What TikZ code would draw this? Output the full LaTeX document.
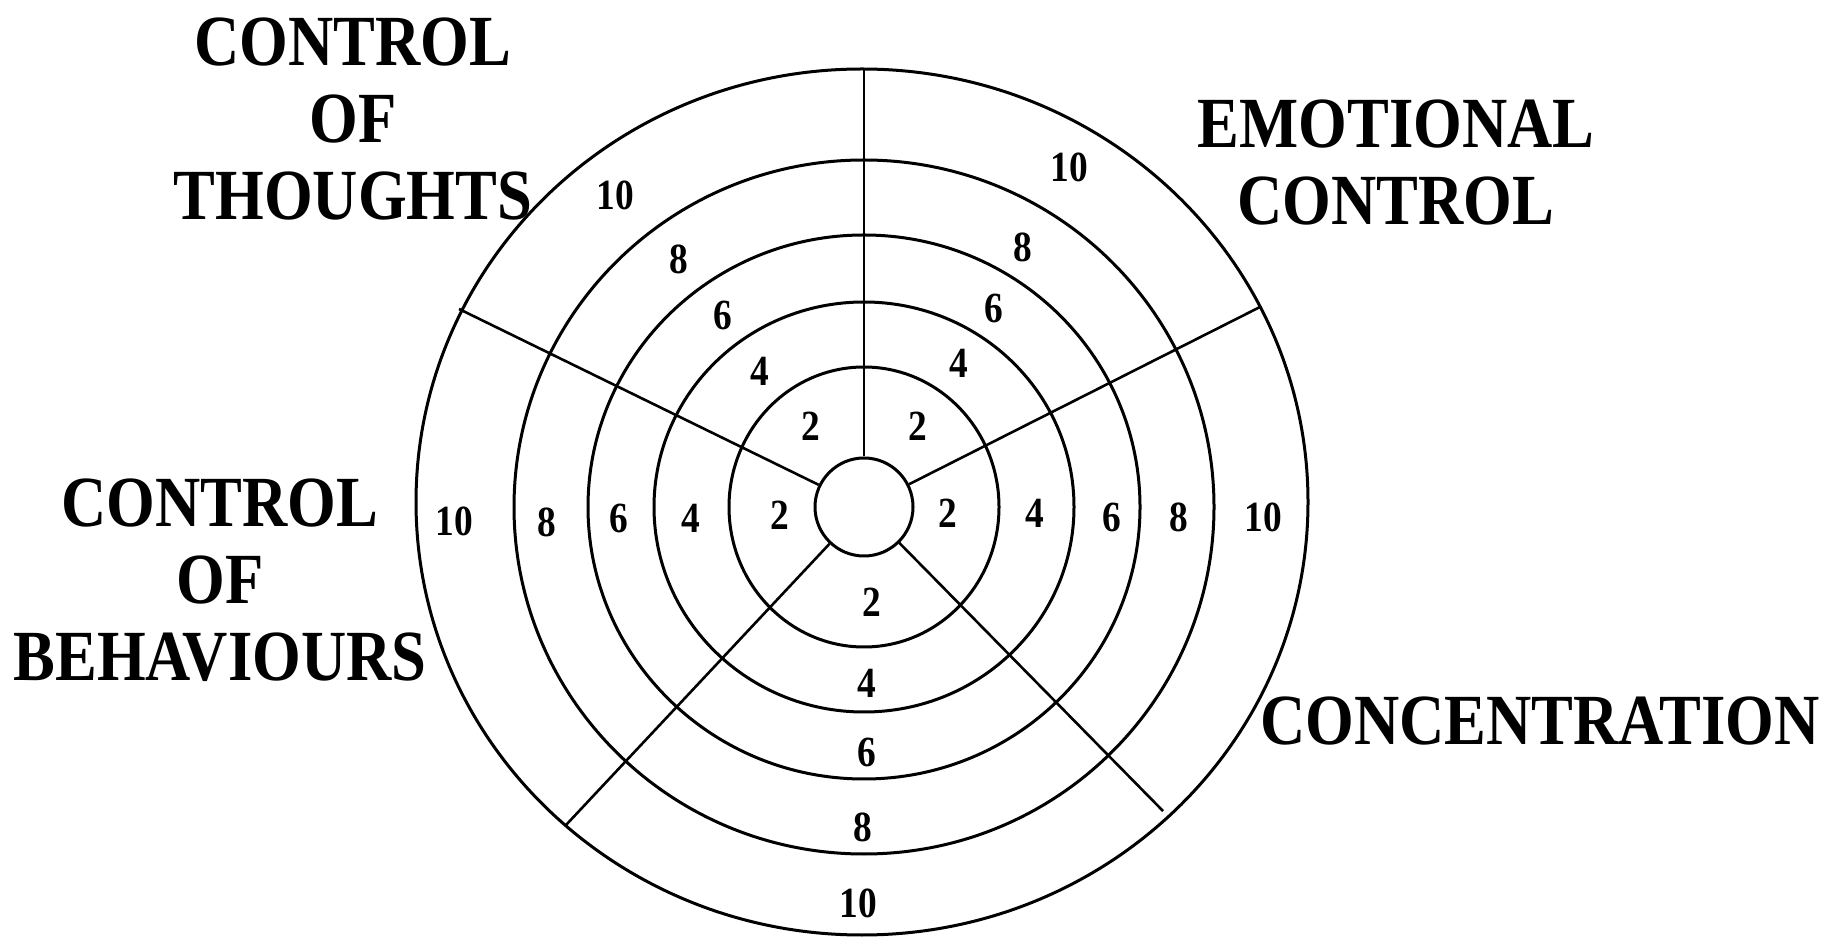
\documentclass[tikz,border=0pt]{standalone}
\usepackage{fontspec}
\setmainfont{Liberation Serif}[FakeStretch=0.87]

\tikzset{
  ring/.style={line width=1.5pt},
  spoke/.style={line width=1.3pt},
  num/.style={inner sep=0pt, font=\fontsize{21.5}{21.5}\selectfont\bfseries},
  area/.style={inner sep=0pt, align=center, anchor=north,
    font=\fontsize{36}{38.5}\selectfont\bfseries}
}

\begin{document}
\begin{tikzpicture}[x=0.5pt, y=0.5pt]
  \useasboundingbox (0,0) rectangle (1830,937);
  \coordinate (c) at (864,430);
  \coordinate (c0) at (862,435);
  \draw[ring] (c) ellipse [x radius=135, y radius=140];
  \draw[ring] (c) ellipse [x radius=210, y radius=205];
  \draw[ring] (c) ellipse [x radius=276, y radius=272];
  \draw[ring] (c) ellipse [x radius=350, y radius=347];
  \draw[ring] (c0) ellipse [x radius=446, y radius=433];
  \node[circle, draw, ring, minimum size=49pt, inner sep=0pt] (hub) at (c) {};

  \coordinate (eT) at (864,869);
  \coordinate (eUR) at (1260,630);
  \coordinate (eLR) at (1163,126);
  \coordinate (eLL) at (566,112);
  \coordinate (eUL) at (459,628);
  \draw[spoke] (hub) -- (eT);
  \draw[spoke] (hub) -- (eUR);
  \draw[spoke] (hub) -- (eLR);
  \draw[spoke] (hub) -- (eLL);
  \draw[spoke] (hub) -- (eUL);

  \foreach \v/\x/\y [count=\k] in {2/948/424, 4/1035/424, 6/1112/420, 8/1179/420, 10/1263/420}
    \node[num] (east-\k) at (\x,\y) {\v};
  \foreach \v/\x/\y [count=\k] in {2/780/422, 4/691/419, 6/619/419, 8/547/415, 10/454/416}
    \node[num] (west-\k) at (\x,\y) {\v};
  \foreach \v/\x/\y [count=\k] in {2/872/335, 4/867/254, 6/867/185, 8/863/110, 10/858/34}
    \node[num] (south-\k) at (\x,\y) {\v};
  \foreach \v/\x/\y [count=\k] in {2/811/511, 4/760/566, 6/723/622, 8/679/678, 10/615/742}
    \node[num] (nw-\k) at (\x,\y) {\v};
  \foreach \v/\x/\y [count=\k] in {2/918/511, 4/959/574, 6/994/629, 8/1023/690, 10/1069/770}
    \node[num] (ne-\k) at (\x,\y) {\v};

  \node[area] (thoughts) at (353,920) {CONTROL\\OF\\THOUGHTS};
  \node[area] (emotions) at (1396,838) {EMOTIONAL\\CONTROL};
  \node[area] (behaviours) at (220,459) {CONTROL\\OF\\BEHAVIOURS};
  \node[area] (focus) at (1540,241) {CONCENTRATION};
\end{tikzpicture}
\end{document}
